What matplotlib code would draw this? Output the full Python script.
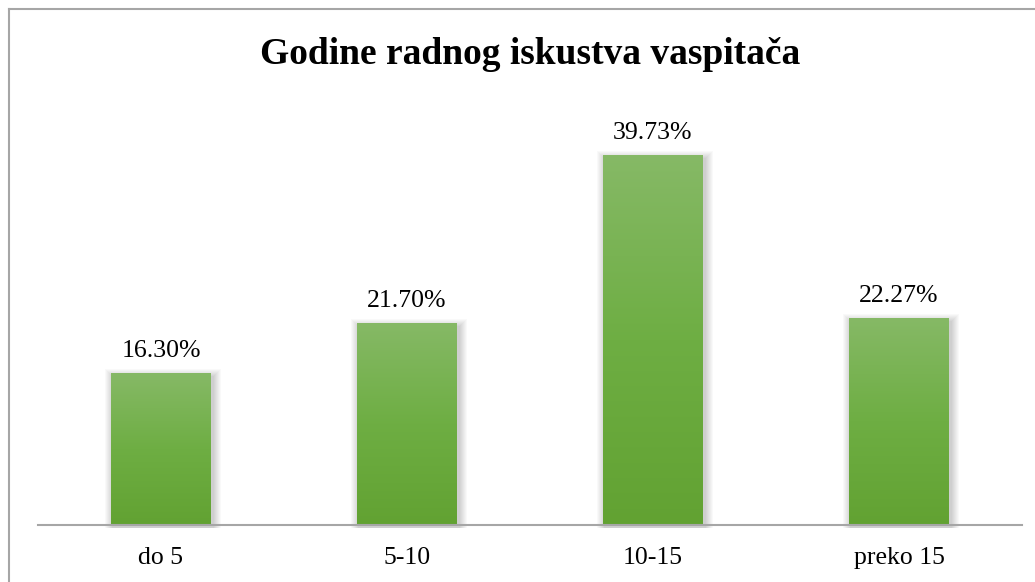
import matplotlib.pyplot as plt
import numpy as np
from matplotlib.patches import Rectangle
from matplotlib.colors import LinearSegmentedColormap

categories = ["do 5", "5-10", "10-15", "preko 15"]
values = [16.30, 21.70, 39.73, 22.27]
labels = ["16.30%", "21.70%", "39.73%", "22.27%"]

plt.rcParams['font.family'] = ['Liberation Serif', 'DejaVu Serif']

W, H = 1035, 582
fig = plt.figure(figsize=(W / 100, H / 100), dpi=100)

# okvir oko grafika (lijeva i gornja ivica)
fig.add_artist(plt.Line2D([8.5 / W, 8.5 / W], [0, 1 - 9 / H], color='#a6a6a6', lw=1.5))
fig.add_artist(plt.Line2D([8.5 / W, 1], [1 - 9 / H, 1 - 9 / H], color='#a6a6a6', lw=1.5))

ax = fig.add_axes([38 / W, 1 - 525 / H, (1022 - 38) / W, (525 - 95) / H])
ax.set_xlim(-0.5, len(categories) - 0.5)
ax.set_ylim(0, 430 / 9.31)

# piksel -> podaci
px_x = 1 / 246.0
px_y = 1 / 9.31

cmap = LinearSegmentedColormap.from_list('g', ['#62a232', '#6eae43', '#86b966'])
grad = np.linspace(0, 1, 256).reshape(-1, 1)
bw = 0.405

for i, v in enumerate(values):
    # meka sjena
    for k in range(1, 9):
        ax.add_patch(Rectangle((i - bw / 2 - k * px_x + 2 * px_x, -3 * px_y),
                               bw + 2 * k * px_x, v + (k - 1) * px_y,
                               color='black', alpha=0.022, lw=0, zorder=1, clip_on=False))
    bar = ax.bar(i, v, width=bw, color='#6dac45', zorder=2)[0]
    im = ax.imshow(grad, cmap=cmap, origin='lower', aspect='auto',
                   extent=(i - bw / 2, i + bw / 2, 0, v), zorder=3)
    im.set_clip_path(bar)
    ax.text(i, v + 16 * px_y, labels[i], ha='center', va='baseline', fontsize=18.5)

ax.set_xticks(range(len(categories)))
ax.set_xticklabels(categories, fontsize=18.5)
ax.tick_params(axis='x', length=0, pad=16)
ax.set_yticks([])
for s in ['top', 'right', 'left']:
    ax.spines[s].set_visible(False)
ax.spines['bottom'].set_color('#a6a6a6')
ax.spines['bottom'].set_linewidth(1.5)
ax.spines['bottom'].set_zorder(5)

fig.text(530 / W, 1 - 55 / H, "Godine radnog iskustva vaspitača", ha='center', va='center',
         fontsize=27, fontweight='bold')

fig.savefig('out.png', dpi=100)
